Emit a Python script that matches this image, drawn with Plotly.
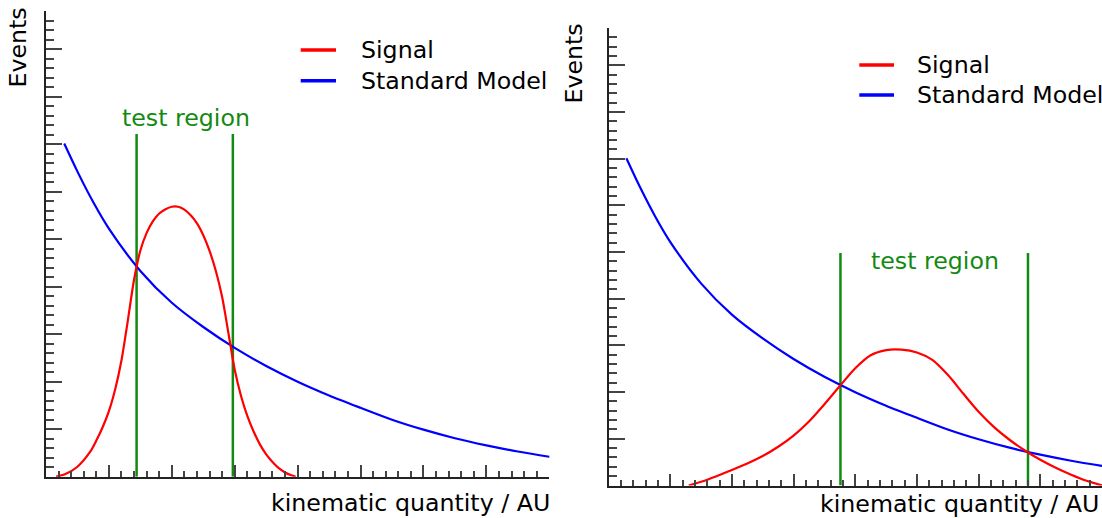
import plotly.graph_objects as go

# Standard Model background shape (same in both panels)
sm_x = [0.29, 0.5, 0.75, 1.0, 1.5, 2.0, 2.5, 3.0, 3.5, 4.0, 4.5, 5.0, 5.5, 6.0, 6.5, 7.0,
        7.5, 8.0, 8.1]
sm_y = [7.01, 6.42, 5.78, 5.22, 4.33, 3.66, 3.15, 2.71, 2.33, 2.00, 1.71, 1.45, 1.20, 0.99,
        0.81, 0.66, 0.53, 0.42, 0.40]

# Narrow signal (left panel)
sig_narrow_x = [0.16, 0.3, 0.5, 0.7, 0.8, 0.9, 1.0, 1.1, 1.2, 1.3, 1.4, 1.5, 1.6, 1.7, 1.8,
                1.9, 2.0, 2.1, 2.2, 2.3, 2.4, 2.5, 2.6, 2.7, 2.8, 2.9, 3.0, 3.1, 3.2, 3.3,
                3.4, 3.5, 3.6, 3.7, 3.8, 3.9, 3.97]
sig_narrow_y = [0.00, 0.05, 0.21, 0.52, 0.76, 1.04, 1.38, 1.84, 2.45, 3.28, 4.15, 4.76,
                5.13, 5.38, 5.54, 5.63, 5.68, 5.68, 5.62, 5.50, 5.33, 5.08, 4.75, 4.33,
                3.78, 3.02, 2.25, 1.70, 1.28, 0.95, 0.68, 0.47, 0.31, 0.18, 0.09, 0.03, 0.00]

# Broad signal (right panel)
sig_broad_x = [1.30, 1.5, 1.75, 2.0, 2.25, 2.5, 2.75, 3.0, 3.25, 3.5, 3.75, 4.0, 4.25, 4.5,
               4.75, 5.0, 5.25, 5.5, 5.75, 6.0, 6.25, 6.5, 6.75, 7.0, 7.25, 7.5, 7.75, 8.0]
sig_broad_y = [0.00, 0.08, 0.20, 0.33, 0.47, 0.63, 0.83, 1.07, 1.37, 1.74, 2.13, 2.51, 2.79,
               2.90, 2.91, 2.85, 2.69, 2.37, 1.97, 1.58, 1.25, 0.98, 0.75, 0.55, 0.38, 0.23,
               0.10, 0.00]

# Test-region boundaries and line heights
region_left = [1.44, 2.97]
region_left_top = 7.21
region_right = [3.76, 6.80]
region_right_top = 4.98

series_names = ["Signal", "Standard Model"]
x_title = "kinematic quantity / AU"
y_title = "Events"
region_label = "test region"

RED = "#ff0000"
BLUE = "#0000ff"
GREEN = "#128a12"
FONT = "DejaVu Sans"
FS = 23.7

W, H = 1102, 518


def px(x):
    return x / W


def py(y):
    return 1 - y / H


fig = go.Figure()

panels = [
    dict(xa="x", ya="y", sig_x=sig_narrow_x, sig_y=sig_narrow_y,
         bounds=region_left, top=region_left_top),
    dict(xa="x2", ya="y2", sig_x=sig_broad_x, sig_y=sig_broad_y,
         bounds=region_right, top=region_right_top),
]

for p in panels:
    for b in p["bounds"]:
        fig.add_trace(go.Scatter(x=[b, b], y=[0, p["top"]], mode="lines",
                                 line=dict(color=GREEN, width=2.5),
                                 xaxis=p["xa"], yaxis=p["ya"],
                                 showlegend=False, hoverinfo="skip"))
    fig.add_trace(go.Scatter(x=sm_x, y=sm_y, mode="lines", name=series_names[1],
                             line=dict(color=BLUE, width=2.2, shape="spline", smoothing=0.8),
                             xaxis=p["xa"], yaxis=p["ya"], showlegend=False))
    fig.add_trace(go.Scatter(x=p["sig_x"], y=p["sig_y"], mode="lines", name=series_names[0],
                             line=dict(color=RED, width=2.2, shape="spline", smoothing=0.8),
                             xaxis=p["xa"], yaxis=p["ya"], showlegend=False))

common_x = dict(range=[0, 8], showgrid=False, zeroline=False, showticklabels=False,
                showline=True, linecolor="#222", linewidth=2,
                ticks="inside", ticklen=12, tickwidth=1.5, tickcolor="#444", dtick=1, tick0=0,
                minor=dict(ticks="inside", ticklen=6, tickwidth=1.5, tickcolor="#444", dtick=0.2))
common_y = dict(range=[0, 9.8], showgrid=False, zeroline=False, showticklabels=False,
                showline=True, linecolor="#222", linewidth=2,
                ticks="inside", ticklen=16, tickwidth=1.5, tickcolor="#444", dtick=1, tick0=0,
                minor=dict(ticks="inside", ticklen=8, tickwidth=1.5, tickcolor="#444", dtick=0.2))

fig.update_layout(
    width=W, height=H,
    margin=dict(l=0, r=0, t=0, b=0, autoexpand=False),
    paper_bgcolor="white", plot_bgcolor="white",
    font=dict(family=FONT, size=FS, color="black"),
    showlegend=False,
    xaxis=dict(domain=[px(46), px(549.3)], anchor="y", **common_x),
    yaxis=dict(domain=[py(476.7), py(11)], anchor="x", **common_y),
    xaxis2=dict(domain=[px(608.5), 1.0], anchor="y2", **common_x),
    yaxis2=dict(domain=[py(485.5), py(28)], anchor="x2", **common_y),
)

annotations = []
shapes = []

# Legends drawn as line samples + labels
for (lx0, lx1, tx, ys) in [(300.7, 336, 358.5, (50, 80.7)), (859.3, 894, 914.5, (65, 95))]:
    for name, color, yy in zip(series_names, [RED, BLUE], ys):
        shapes.append(dict(type="line", xref="paper", yref="paper",
                           x0=px(lx0), x1=px(lx1), y0=py(yy), y1=py(yy),
                           line=dict(color=color, width=3.5)))
        annotations.append(dict(text=name, xref="paper", yref="paper", x=px(tx), y=py(yy),
                                xanchor="left", yanchor="middle", showarrow=False,
                                font=dict(family=FONT, size=FS, color="black")))

# Region labels
annotations.append(dict(text=region_label, xref="x", yref="y", x=2.23, y=7.55,
                        xanchor="center", yanchor="middle", showarrow=False,
                        font=dict(family=FONT, size=FS, color=GREEN)))
annotations.append(dict(text=region_label, xref="x2", yref="y2", x=5.29, y=4.80,
                        xanchor="center", yanchor="middle", showarrow=False,
                        font=dict(family=FONT, size=FS, color=GREEN)))

# Axis titles, aligned to the axis ends
for (xc, yc) in [(18, 47.5), (573, 63.5)]:
    annotations.append(dict(text=y_title, xref="paper", yref="paper", x=px(xc), y=py(yc),
                            xanchor="center", yanchor="middle", textangle=-90, showarrow=False,
                            font=dict(family=FONT, size=FS, color="black")))
for (xr, yc) in [(551.5, 503), (1101, 504)]:
    annotations.append(dict(text=x_title, xref="paper", yref="paper", x=px(xr), y=py(yc),
                            xanchor="right", yanchor="middle", showarrow=False,
                            font=dict(family=FONT, size=FS, color="black")))

fig.update_layout(annotations=annotations, shapes=shapes)

fig.write_html("out.html")
